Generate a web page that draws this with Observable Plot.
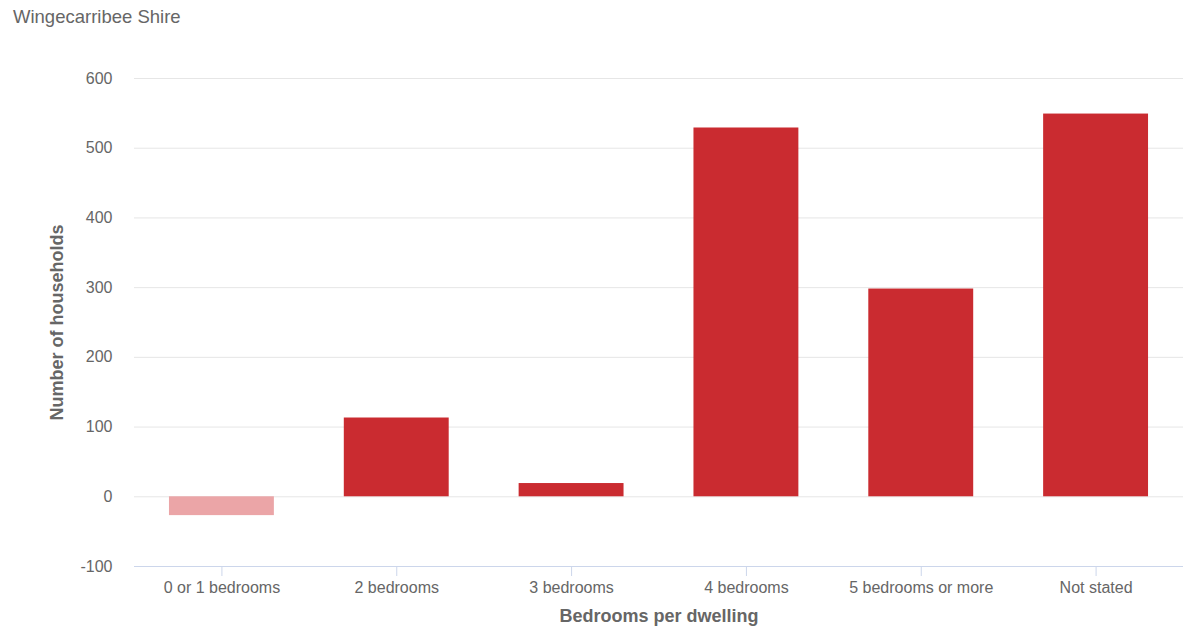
<!DOCTYPE html>
<html>
<head>
<meta charset="utf-8">
<script src="https://cdn.jsdelivr.net/npm/d3@7"></script>
<script src="https://cdn.jsdelivr.net/npm/@observablehq/plot@0.6"></script>
<style>
  html, body { margin: 0; padding: 0; background: #fff; }
  body { width: 1201px; height: 628px; overflow: hidden; font-family: "Liberation Sans", Arial, sans-serif; }
  #title { height: 30px; padding-left: 13px; font-size: 18.5px; line-height: 18px; padding-top: 8px; box-sizing: border-box; color: #666; }
</style>
</head>
<body>
<div id="title">Wingecarribee Shire</div>
<div id="chart"></div>
<script>
const categories = ["0 or 1 bedrooms", "2 bedrooms", "3 bedrooms", "4 bedrooms", "5 bedrooms or more", "Not stated"];
const values = [-27, 113, 19, 529, 298, 549];
const yTicks = [-100, 0, 100, 200, 300, 400, 500, 600];
const xTitle = "Bedrooms per dwelling";
const yTitle = "Number of households";

const data = categories.map((c, i) => ({category: c, value: values[i]}));

const chart = Plot.plot({
  width: 1201,
  height: 598,
  marginLeft: 134,
  marginRight: 18,
  marginTop: 48,
  marginBottom: 62,
  style: {fontFamily: "'Liberation Sans', Arial, sans-serif", fontSize: "16px", color: "#666", background: "#fff"},
  x: {domain: categories, paddingInner: 0.4, paddingOuter: 0.2, round: false, label: null},
  y: {domain: [-100, 600], label: null},
  marks: [
    Plot.ruleY(yTicks.filter(t => t !== -100), {stroke: "#e6e6e6", strokeWidth: 1}),
    Plot.barY(data, {x: "category", y: "value", fill: d => d.value < 0 ? "#eba5a7" : "#ca2b30"}),
    Plot.ruleY([-100], {stroke: "#ccd6eb", strokeWidth: 1}),
    Plot.axisY({ticks: yTicks, tickFormat: d => String(d), tickSize: 0, tickPadding: 22, fontSize: 16, fill: "#666", label: null}),
    Plot.axisX({tickSize: 10, tickPadding: 5, stroke: "#ccd6eb", fill: "#666", fontSize: 16, label: null}),
    Plot.text([yTitle], {frameAnchor: "left", textAnchor: "middle", dx: -77, rotate: -90, fontSize: 18, fontWeight: "bold", fill: "#666"}),
    Plot.text([xTitle], {frameAnchor: "bottom", dy: 55, fontSize: 18, fontWeight: "bold", fill: "#666"})
  ]
});
document.getElementById("chart").appendChild(chart);
</script>
</body>
</html>
